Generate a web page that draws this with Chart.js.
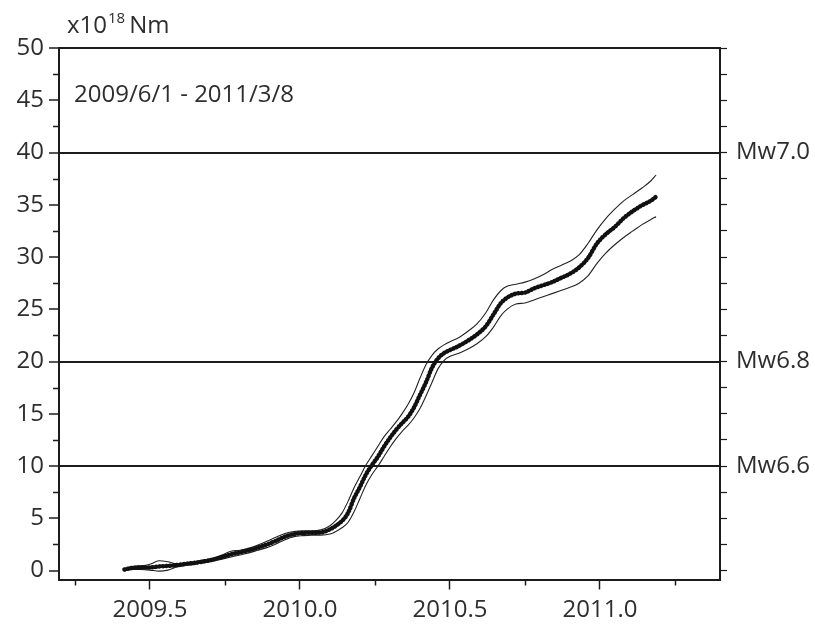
<!DOCTYPE html>
<html>
<head>
<meta charset="utf-8">
<script src="https://cdn.jsdelivr.net/npm/chart.js@4.4.0/dist/chart.umd.min.js"></script>
<style>
  html, body { margin: 0; padding: 0; background: #fff; }
  #momentChart { display: block; }
</style>
</head>
<body>
<canvas id="momentChart" width="815" height="624"></canvas>
<script>
// 年（小数表記）
const years = [
  2009.415, 2009.44, 2009.47, 2009.50, 2009.53, 2009.56, 2009.59, 2009.62, 2009.65, 2009.68,
  2009.71, 2009.74, 2009.77, 2009.80, 2009.83, 2009.86, 2009.89, 2009.92, 2009.95, 2009.98,
  2010.01, 2010.04, 2010.07, 2010.10, 2010.12, 2010.14, 2010.16, 2010.18, 2010.20, 2010.22,
  2010.24, 2010.26, 2010.28, 2010.30, 2010.32, 2010.34, 2010.36, 2010.38, 2010.40, 2010.42,
  2010.44, 2010.46, 2010.48, 2010.50, 2010.53, 2010.56, 2010.59, 2010.62, 2010.645, 2010.67,
  2010.69, 2010.72, 2010.75, 2010.78, 2010.81, 2010.84, 2010.87, 2010.90, 2010.93, 2010.96,
  2010.99, 2011.02, 2011.05, 2011.08, 2011.11, 2011.14, 2011.17, 2011.187
];

// 積算モーメント（x10^18 Nm）
const momentCenter = [
  0.10, 0.25, 0.30, 0.30, 0.40, 0.45, 0.53, 0.65, 0.75, 0.88,
  1.05, 1.30, 1.55, 1.75, 1.95, 2.20, 2.50, 2.85, 3.25, 3.50,
  3.60, 3.62, 3.65, 3.95, 4.30, 4.75, 5.50, 6.90, 8.00, 9.20,
  10.1, 10.9, 11.85, 12.7, 13.45, 14.1, 14.7, 15.6, 16.8, 18.0,
  19.4, 20.3, 20.8, 21.1, 21.5, 22.0, 22.6, 23.4, 24.5, 25.6,
  26.1, 26.5, 26.6, 27.0, 27.3, 27.6, 28.0, 28.4, 29.0, 29.9,
  31.3, 32.2, 32.9, 33.75, 34.4, 34.95, 35.4, 35.77
];
const momentUpper = [
  0.20, 0.40, 0.45, 0.60, 0.95, 0.85, 0.65, 0.75, 0.85, 1.00,
  1.20, 1.50, 1.85, 1.95, 2.15, 2.45, 2.80, 3.20, 3.55, 3.75,
  3.80, 3.80, 3.90, 4.30, 4.80, 5.50, 6.60, 7.90, 9.00, 10.1,
  11.0, 11.9, 12.8, 13.5, 14.2, 15.0, 15.9, 17.0, 18.4, 19.7,
  20.6, 21.2, 21.6, 21.9, 22.3, 22.9, 23.6, 24.7, 25.9, 26.8,
  27.2, 27.4, 27.6, 27.9, 28.3, 28.8, 29.2, 29.6, 30.2, 31.3,
  32.6, 33.7, 34.6, 35.4, 36.0, 36.6, 37.3, 37.85
];
const momentLower = [
  0.00, 0.10, 0.10, 0.05, -0.05, 0.05, 0.35, 0.50, 0.60, 0.75,
  0.90, 1.10, 1.30, 1.50, 1.70, 1.95, 2.20, 2.55, 2.95, 3.25,
  3.35, 3.40, 3.40, 3.50, 3.75, 4.10, 4.60, 5.60, 6.90, 8.20,
  9.20, 10.0, 10.9, 11.8, 12.6, 13.3, 13.9, 14.6, 15.5, 16.7,
  18.0, 19.3, 20.1, 20.5, 20.8, 21.2, 21.7, 22.4, 23.3, 24.4,
  25.0, 25.5, 25.6, 25.9, 26.2, 26.5, 26.8, 27.1, 27.5, 28.2,
  29.4, 30.4, 31.2, 31.9, 32.5, 33.1, 33.6, 33.86
];

// マグニチュード換算の基準線
const mwLevels = [40, 20, 10];
const mwLabels = ['Mw7.0', 'Mw6.8', 'Mw6.6'];

// 副目盛
const minorYTicks = [2.5, 7.5, 12.5, 17.5, 22.5, 27.5, 32.5, 37.5, 42.5, 47.5];
const minorXTicks = [2009.25, 2009.75, 2010.25, 2010.75, 2011.25];

const periodLabel = '2009/6/1 - 2011/3/8';

const lineColor = '#1c1c1c';
const textColor = '#2e2e2e';
const fontFamily = '"Open Sans", "Noto Sans", sans-serif';
const fontSize = 24;

function toPoints(values) {
  return years.map((yr, i) => ({ x: yr, y: values[i] }));
}

// 副目盛・単位・期間ラベルを描く
const extrasPlugin = {
  id: 'extras',
  afterDraw(chart) {
    const { ctx, chartArea, scales } = chart;
    ctx.save();
    ctx.strokeStyle = lineColor;
    ctx.lineWidth = 1.5;
    ctx.beginPath();
    minorYTicks.forEach(v => {
      const py = Math.round(scales.y.getPixelForValue(v)) + 0.5;
      ctx.moveTo(chartArea.left - 6, py);
      ctx.lineTo(chartArea.left, py);
    });
    minorXTicks.forEach(v => {
      const px = Math.round(scales.x.getPixelForValue(v)) + 0.5;
      ctx.moveTo(px, chartArea.bottom);
      ctx.lineTo(px, chartArea.bottom + 6);
    });
    ctx.stroke();

    ctx.fillStyle = textColor;
    ctx.textBaseline = 'alphabetic';
    ctx.textAlign = 'left';
    ctx.font = fontSize + 'px ' + fontFamily;
    ctx.fillText('x10', 67, 33);
    const w = ctx.measureText('x10').width;
    ctx.font = '15px ' + fontFamily;
    ctx.fillText('18', 67 + w + 1, 23);
    const w2 = ctx.measureText('18').width;
    ctx.font = fontSize + 'px ' + fontFamily;
    ctx.fillText('Nm', 67 + w + w2 + 5, 33);

    ctx.fillText(periodLabel, chartArea.left + 15, 102);
    ctx.restore();
  }
};

const ctx = document.getElementById('momentChart').getContext('2d');

new Chart(ctx, {
  type: 'line',
  data: {
    datasets: [
      {
        label: 'center',
        data: toPoints(momentCenter),
        borderColor: '#111',
        borderWidth: 4.5,
        borderDash: [0.5, 3.0],
        borderCapStyle: 'round',
        pointRadius: 0,
        cubicInterpolationMode: 'monotone'
      },
      {
        label: 'upper',
        data: toPoints(momentUpper),
        borderColor: '#222',
        borderWidth: 1.1,
        pointRadius: 0,
        cubicInterpolationMode: 'monotone'
      },
      {
        label: 'lower',
        data: toPoints(momentLower),
        borderColor: '#222',
        borderWidth: 1.1,
        pointRadius: 0,
        cubicInterpolationMode: 'monotone'
      }
    ]
  },
  options: {
    responsive: false,
    animation: false,
    devicePixelRatio: 1,
    layout: { padding: { top: 48, left: 0, right: 0, bottom: 0 } },
    plugins: {
      legend: { display: false },
      tooltip: { enabled: false }
    },
    scales: {
      x: {
        type: 'linear',
        min: 2009.197,
        max: 2011.4,
        ticks: {
          stepSize: 0.5,
          includeBounds: false,
          autoSkip: false,
          maxRotation: 0,
          color: textColor,
          font: { family: fontFamily, size: fontSize },
          padding: 6,
          callback: v => v.toFixed(1)
        },
        grid: {
          drawOnChartArea: false,
          tickLength: 10,
          tickColor: lineColor,
          tickWidth: 1.5
        },
        border: { color: lineColor, width: 2 },
        afterFit: s => { s.height = 44.5; }
      },
      y: {
        type: 'linear',
        position: 'left',
        min: -0.85,
        max: 50,
        ticks: {
          stepSize: 5,
          includeBounds: false,
          autoSkip: false,
          color: textColor,
          font: { family: fontFamily, size: fontSize },
          padding: 5,
          callback: v => String(v)
        },
        grid: {
          color: c => (c.tick && (c.tick.value === 50 || mwLevels.includes(c.tick.value))) ? lineColor : 'rgba(0,0,0,0)',
          lineWidth: 2,
          tickLength: 10,
          tickColor: lineColor,
          tickWidth: 1.5
        },
        border: { color: lineColor, width: 2 },
        afterFit: s => { s.width = 59; }
      },
      y2: {
        type: 'linear',
        position: 'right',
        min: -0.85,
        max: 50,
        ticks: {
          stepSize: 2.5,
          includeBounds: false,
          autoSkip: false,
          color: textColor,
          font: { family: fontFamily, size: fontSize },
          padding: 9,
          callback: v => {
            const i = mwLevels.indexOf(v);
            return i >= 0 ? mwLabels[i] : '';
          }
        },
        grid: {
          drawOnChartArea: false,
          tickLength: 7,
          tickColor: lineColor,
          tickWidth: 1.2
        },
        border: { color: lineColor, width: 2 },
        afterFit: s => { s.width = 95; }
      }
    }
  },
  plugins: [extrasPlugin]
});
</script>
</body>
</html>
